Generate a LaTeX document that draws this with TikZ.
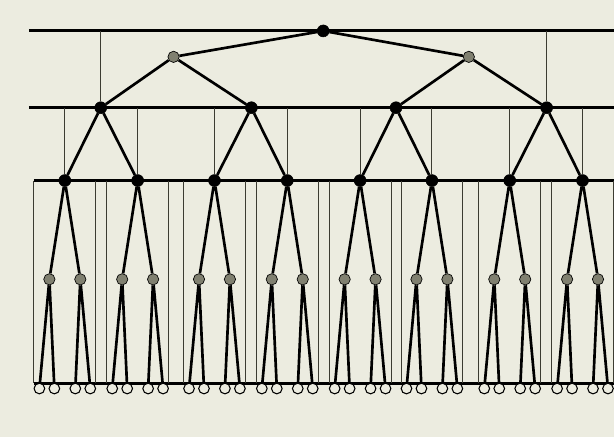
\documentclass[tikz,border=0pt]{standalone}
\definecolor{bg}{RGB}{236,236,224}
\definecolor{midgray}{RGB}{128,128,112}
\definecolor{thingray}{RGB}{60,60,50}

\begin{document}
\begin{tikzpicture}[x=0.75pt,y=0.75pt,yscale=-1,xscale=1,
  blk/.style={circle,fill=black,draw=black,inner sep=0pt,minimum size=9pt},
  gry/.style={circle,fill=midgray,draw=black,line width=0.5pt,inner sep=0pt,minimum size=8.5pt},
  lf/.style={circle,draw=black,fill=bg,line width=0.8pt,inner sep=0pt,minimum size=8pt},
  bus/.style={line width=2.3pt},
  edge/.style={line width=2pt},
  riser/.style={line width=0.75pt,color=thingray}]

%Shape: Background
\fill[bg] (0,0) rectangle (616,438);

%Straight Lines: horizontal buses
\draw[bus] (29,31) -- (616,31);
\draw[bus] (29,108) -- (616,108);
\draw[bus] (34,181) -- (616,181);
\draw[bus] (34,384) -- (616,384);

%Nodes: root and upper levels
\node[blk] (root) at (324,31) {};
\node[gry] (a1) at (174,57) {};
\node[gry] (a2) at (470,57) {};
\node[blk] (b1) at (101,108) {};
\node[blk] (b2) at (252,108) {};
\node[blk] (b3) at (397,108) {};
\node[blk] (b4) at (548,108) {};

%Straight Lines: upper tree
\draw[edge] (b1) -- (a1) -- (root) -- (a2) -- (b4);
\draw[edge] (a1) -- (b2);
\draw[edge] (a2) -- (b3);
\draw[riser] (b1) -- (b1 |- root);
\draw[riser] (b4) -- (b4 |- root);

%Subtrees below the third bus
\foreach \c [count=\i] in {65,138,215,288,361,433,511,584}{
  \pgfmathtruncatemacro\p{(\i+1)/2}
  \node[blk] (c\i) at (\c,181) {};
  \node[gry] (d\i-1) at (\c-15.5,280) {};
  \node[gry] (d\i-2) at (\c+15.5,280) {};
  \node[lf] (e\i-1) at (\c-25.5,389.5) {};
  \node[lf] (e\i-2) at (\c-10.5,389.5) {};
  \node[lf] (e\i-3) at (\c+10.5,389.5) {};
  \node[lf] (e\i-4) at (\c+25.5,389.5) {};
  % box sides
  \draw[riser] (\c-31,181) -- (\c-31,384);
  \draw[riser] (\c+31,181) -- (\c+31,384);
  \draw[riser] (c\i) -- (c\i |- b1);
  \draw[edge] (b\p) -- (c\i);
  \draw[edge] (d\i-1) -- (c\i) -- (d\i-2);
  \draw[edge] (e\i-1) -- (d\i-1) -- (e\i-2);
  \draw[edge] (e\i-3) -- (d\i-2) -- (e\i-4);
}

\end{tikzpicture}
\end{document}
